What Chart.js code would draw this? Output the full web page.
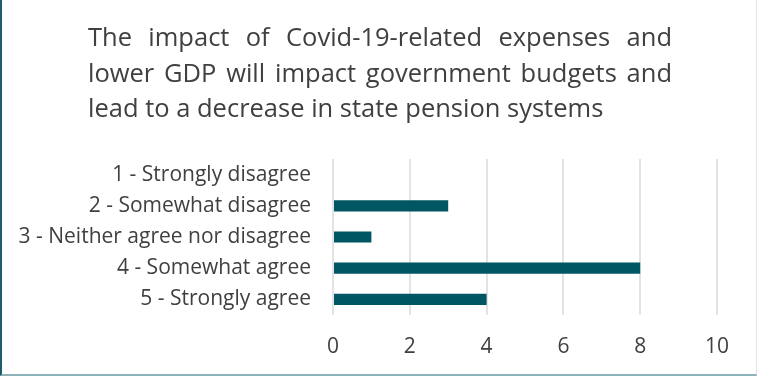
<!DOCTYPE html>
<html>
<head>
<meta charset="utf-8">
<script src="https://cdn.jsdelivr.net/npm/chart.js@4"></script>
<style>
  html, body { margin: 0; padding: 0; background: #fff; }
  #wrap {
    position: relative; width: 757px; height: 376px; box-sizing: border-box;
    border-left: 2px solid #1d5e69;
    border-right: 1px solid #e4e4e4;
    border-bottom: 2px solid #8fb1b9;
  }
  canvas { display: block; }
</style>
</head>
<body>
<div id="wrap"><canvas id="c" width="754" height="374"></canvas></div>
<script>
// Survey question shown above the bars
const titleLines = [
  'The impact of Covid-19-related expenses and',
  'lower GDP will impact government budgets and',
  'lead to a decrease in state pension systems'
];
// Answer options and number of respondents for each
const categories = [
  '1 - Strongly disagree',
  '2 - Somewhat disagree',
  '3 - Neither agree nor disagree',
  '4 - Somewhat agree',
  '5 - Strongly agree'
];
const responses = [0, 3, 1, 8, 4];
const xTicks = [0, 2, 4, 6, 8, 10];

const FONT = '"Open Sans", Lato, sans-serif';
const TEXT = '#404040';

// Draws the question as a justified block of text (last line left aligned)
const justifiedTitle = {
  id: 'justifiedTitle',
  afterDraw(chart) {
    const ctx = chart.ctx;
    const left = 86, right = 670, top = 46, step = 35.5;
    ctx.save();
    ctx.font = '25.5px ' + FONT;
    ctx.fillStyle = TEXT;
    ctx.textBaseline = 'alphabetic';
    titleLines.forEach((line, i) => {
      const y = top + i * step;
      const words = line.split(' ');
      if (i === titleLines.length - 1) {
        ctx.fillText(line, left, y);
        return;
      }
      const widths = words.map(w => ctx.measureText(w).width);
      const total = widths.reduce((a, b) => a + b, 0);
      const gap = (right - left - total) / (words.length - 1);
      let x = left;
      words.forEach((w, k) => { ctx.fillText(w, x, y); x += widths[k] + gap; });
    });
    ctx.restore();
  }
};

new Chart(document.getElementById('c'), {
  type: 'bar',
  data: {
    labels: categories,
    datasets: [{
      data: responses,
      backgroundColor: '#005662',
      borderWidth: 0,
      barPercentage: 0.36,
      categoryPercentage: 1
    }]
  },
  options: {
    indexAxis: 'y',
    responsive: false,
    animation: false,
    devicePixelRatio: 1,
    layout: { padding: { top: 159, right: 39, bottom: 0, left: 0 } },
    plugins: { legend: { display: false }, tooltip: { enabled: false }, title: { display: false } },
    scales: {
      x: {
        min: 0, max: 10,
        afterBuildTicks: s => { s.ticks = xTicks.map(v => ({ value: v })); },
        afterFit: s => { s.height = 59; },
        grid: { color: '#e3e3e3', lineWidth: 2, drawTicks: false },
        border: { display: false },
        ticks: { color: TEXT, font: { family: FONT, size: 21 }, padding: 19 }
      },
      y: {
        afterFit: s => { s.width = 331; },
        grid: { display: false, drawTicks: false },
        border: { display: false },
        ticks: { color: TEXT, font: { family: FONT, size: 21 }, padding: 22 }
      }
    }
  },
  plugins: [justifiedTitle]
});
</script>
</body>
</html>
